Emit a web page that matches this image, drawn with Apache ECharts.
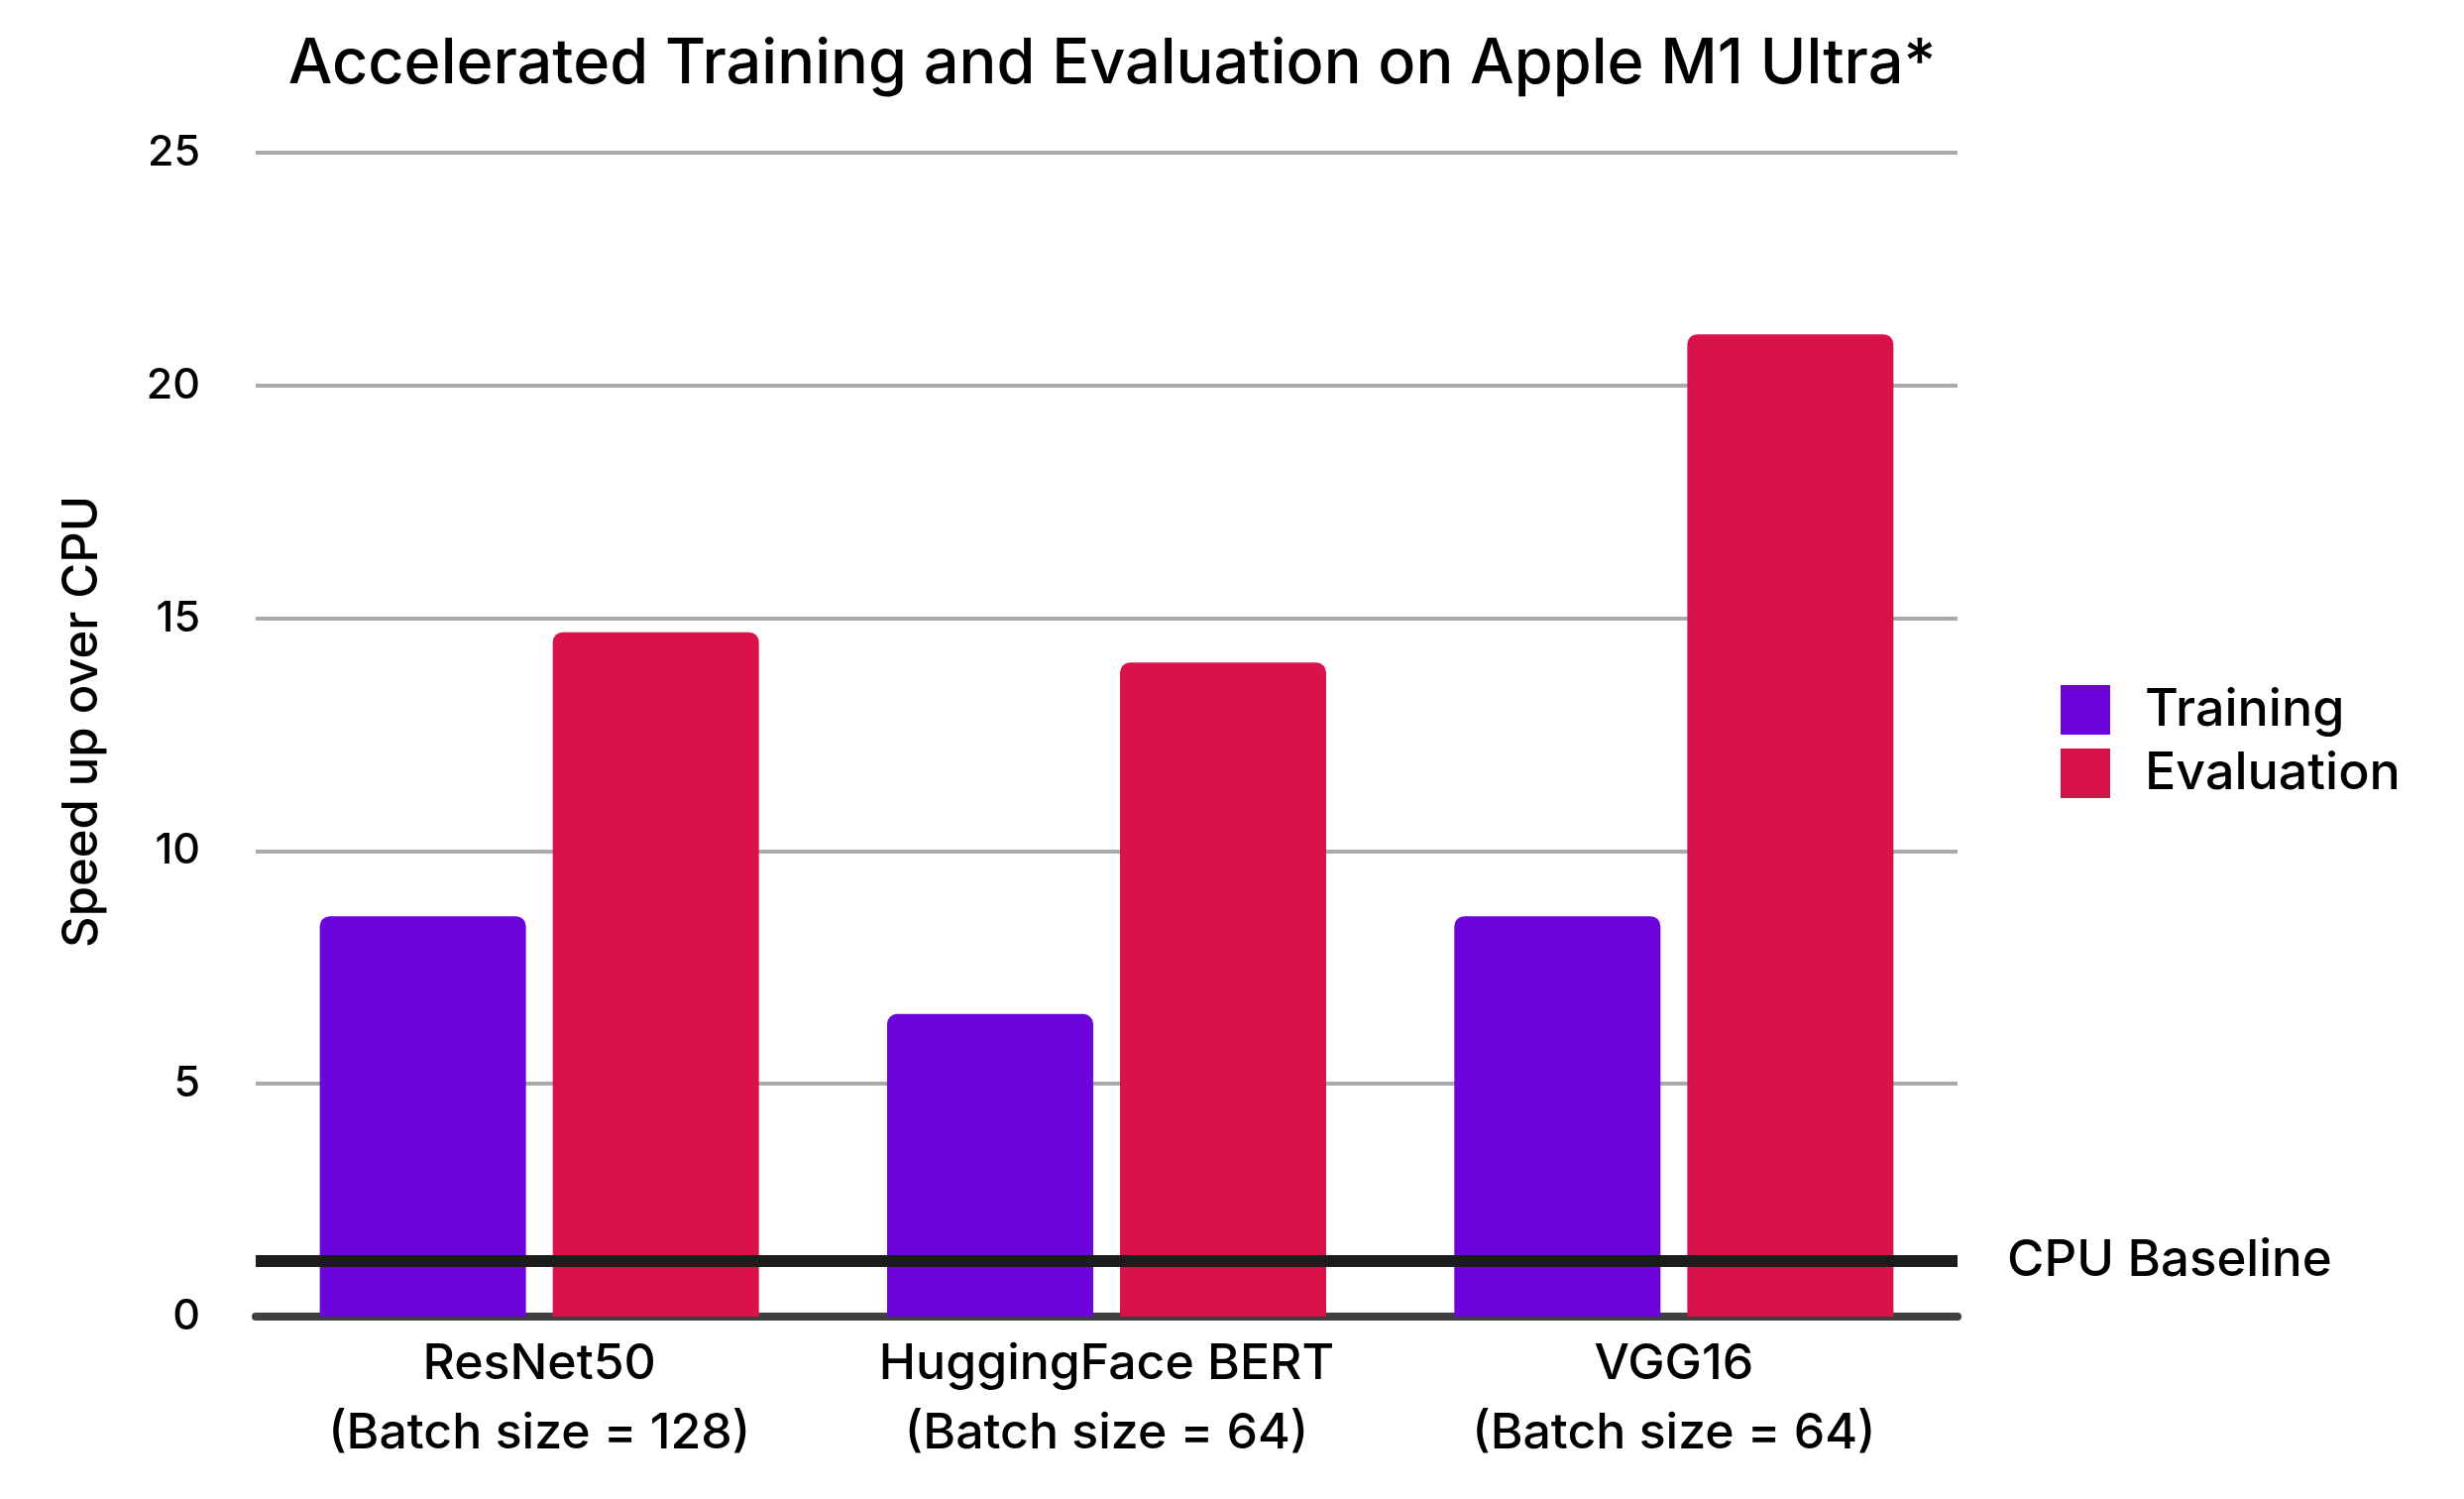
<!DOCTYPE html>
<html>
<head>
<meta charset="utf-8">
<title>Accelerated Training and Evaluation on Apple M1 Ultra*</title>
<script src="https://cdn.jsdelivr.net/npm/echarts@6/dist/echarts.min.js"></script>
<style>
  html, body { margin: 0; padding: 0; background: #fff; }
  #main { width: 2486px; height: 1512px; }
</style>
</head>
<body>
<div id="main"></div>
<script>
// chart data
var categories = [
  'ResNet50\n(Batch size = 128)',
  'HuggingFace BERT\n(Batch size = 64)',
  'VGG16\n(Batch size = 64)'
];
var seriesNames = ['Training', 'Evaluation'];
var training = [8.6, 6.5, 8.6];
var evaluation = [14.7, 14.05, 21.1];
var cpuBaseline = 1.2;
var yTicks = { min: 0, max: 25, interval: 5 };

var FONT = 'Inter, "Noto Sans", sans-serif';

var chart = echarts.init(document.getElementById('main'), null, { renderer: 'canvas' });

chart.setOption({
  animation: false,
  backgroundColor: '#ffffff',
  title: {
    text: 'Accelerated Training and Evaluation on Apple M1 Ultra*',
    left: 1117,
    top: 29,
    textAlign: 'center',
    textStyle: { fontFamily: FONT, fontSize: 63, fontWeight: 500, color: '#000' }
  },
  legend: {
    orient: 'vertical',
    left: 2079,
    top: 690,
    padding: 0,
    itemWidth: 50,
    itemHeight: 50,
    itemGap: 12,
    icon: 'rect',
    data: seriesNames,
    textStyle: { fontFamily: FONT, fontSize: 52, fontWeight: 500, color: '#000', padding: [0, 0, 0, 30] }
  },
  grid: { left: 258, right: 511, top: 154, bottom: 184, containLabel: false },
  xAxis: {
    type: 'category',
    data: categories,
    axisTick: { show: false },
    axisLine: { lineStyle: { color: '#404040', width: 8 } },
    axisLabel: {
      interval: 0,
      hideOverlap: false,
      fontFamily: FONT, fontSize: 50, fontWeight: 500, lineHeight: 70, color: '#000', margin: 13
    }
  },
  yAxis: {
    type: 'value',
    min: yTicks.min,
    max: yTicks.max,
    interval: yTicks.interval,
    name: 'Speed up over CPU',
    nameLocation: 'middle',
    nameRotate: 90,
    nameGap: 150,
    nameTextStyle: { fontFamily: FONT, fontSize: 49, fontWeight: 500, color: '#000', padding: [0, 0, 0, 26] },
    axisLine: { show: false },
    axisTick: { show: false },
    axisLabel: { fontFamily: FONT, fontSize: 43, fontWeight: 500, color: '#000', margin: 56 },
    splitLine: { lineStyle: { color: '#aaaaaa', width: 4 } }
  },
  series: [
    {
      name: seriesNames[0],
      type: 'bar',
      data: training,
      barWidth: 208,
      barGap: '13%',
      itemStyle: { color: '#6b05dc', borderRadius: [10, 10, 0, 0] }
    },
    {
      name: seriesNames[1],
      type: 'bar',
      data: evaluation,
      barWidth: 208,
      barGap: '13%',
      itemStyle: { color: '#d9134a', borderRadius: [10, 10, 0, 0] },
      markLine: {
        silent: true,
        symbol: ['none', 'none'],
        z: 10,
        lineStyle: { color: '#1c1c1c', width: 12, type: 'solid' },
        label: {
          show: true,
          position: 'end',
          distance: 50,
          formatter: 'CPU Baseline',
          fontFamily: FONT,
          fontSize: 51,
          fontWeight: 500,
          color: '#000'
        },
        data: [{ yAxis: cpuBaseline }]
      }
    }
  ]
});
</script>
</body>
</html>
